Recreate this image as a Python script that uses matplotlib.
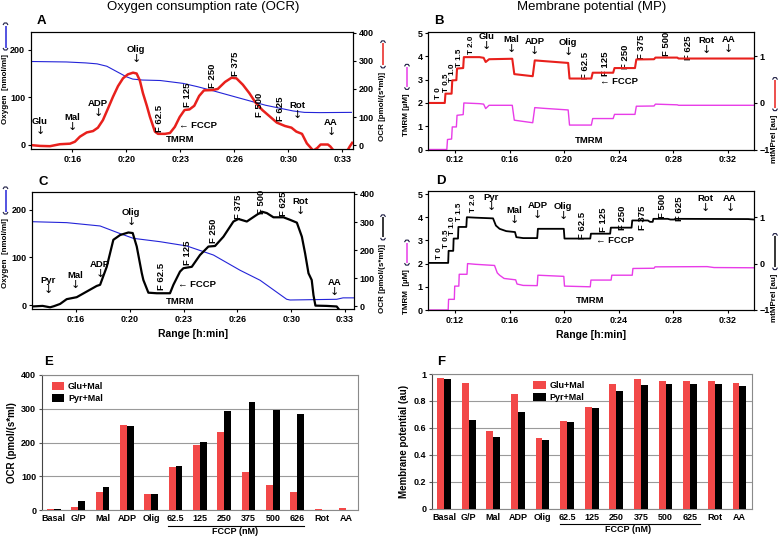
import matplotlib
matplotlib.use('Agg')
import numpy as np
import matplotlib.pyplot as plt
import matplotlib.transforms as mtrans
from matplotlib import font_manager
from matplotlib.lines import Line2D

# ---------------- data ----------------
ticks_ac = [16.667, 20.0, 23.333, 26.667, 30.0, 33.333]
labels_ac = ['0:16', '0:20', '0:23', '0:26', '0:30', '0:33']
ticks_bd = [12, 16, 20, 24, 28, 32]
labels_bd = ['0:12', '0:16', '0:20', '0:24', '0:28', '0:32']

# Panel A  (glutamate + malate)
a_o2_t = [14.1, 16.3, 17.5, 18.2, 18.8, 19.4, 20.0, 20.4, 21.0, 22.1, 23.5, 24.4, 25.3, 27.0, 28.6, 30.3, 31.0, 31.95, 33.9]
a_o2 = [175, 174, 172, 170, 165, 154, 143, 138, 136, 135, 129, 122, 114, 98, 83, 71, 68, 67.5, 68]
a_ocr_t = [14.10, 14.67, 15.29, 15.90, 16.53, 16.83, 17.14, 17.56, 17.95, 18.25, 18.56, 18.87, 19.18, 19.49, 19.80,
           20.10, 20.42, 20.64, 20.84, 21.03, 21.27, 21.46, 21.77, 21.96, 22.39, 22.70, 23.00, 23.30, 23.60, 23.90,
           24.20, 24.50, 24.80, 25.30, 25.65, 26.10, 26.50, 26.80, 27.20, 27.60, 28.00, 28.40, 28.90, 29.30, 29.80,
           30.20, 30.50, 30.85, 31.15, 31.55, 31.80, 32.00, 32.45, 32.60, 32.95, 33.20, 33.50, 33.80, 33.95]
a_ocr = [0, -3, -4, 3, 5, 12, 30, 45, 50, 62, 89, 130, 172, 210, 238,
         252, 258, 255, 230, 185, 140, 101, 48, 40, 40, 43, 65, 100, 125, 127,
         140, 175, 195, 196, 200, 225, 240, 238, 215, 185, 150, 125, 100, 80, 68,
         62, 48, 40, 6, -20, -10, 2, 2, -5, -30, -42, -35, -5, 8]

# Panel C  (pyruvate + malate)
c_o2_t = [13.94, 16.09, 18.16, 19.4, 20.22, 21.87, 23.53, 25.18, 26.83, 28.07, 29.72, 29.93, 32.82, 33.21, 33.89]
c_o2 = [175, 173, 166, 150, 140, 133, 124, 105, 73, 52, 12, 10.5, 12, 15, 15]
c_ocr_t = [13.94, 14.6, 15.06, 15.3, 15.68, 16.09, 16.71, 17.33, 17.95, 18.16, 18.57, 18.98, 19.40, 19.91, 20.18,
           20.43, 20.74, 20.84, 21.15, 21.67, 22.49, 22.70, 23.11, 23.32, 23.84, 24.35, 24.87, 25.28, 25.80, 26.42,
           26.73, 27.25, 27.87, 28.18, 28.49, 28.90, 29.52, 29.93, 30.35, 30.66, 30.86, 31.07, 31.27, 31.38, 31.50,
           32.20, 32.82, 33.13, 33.44, 33.75, 33.89]
c_ocr = [0, 2, -3, 1, 9, 26, 33, 53, 73, 77, 141, 237, 254, 263, 261,
         213, 119, 94, 49, 47, 47, 77, 124, 136, 141, 183, 213, 215, 248, 302,
         311, 302, 326, 337, 332, 317, 317, 308, 298, 248, 189, 118, 94, 40, 3,
         2, 0, -24, -42, -39, -30]

# Panel B  (TMRM / mtMPrel, Glu+Mal)
b_mp_t = [10.0, 11.25, 11.3, 11.75, 11.8, 12.1, 12.15, 12.6, 12.65, 13.8, 14.1, 14.25, 14.5, 16.2, 16.35, 17.7,
          17.85, 18.5, 20.3, 20.4, 22.0, 22.1, 23.6, 23.7, 25.2, 25.3, 26.6, 26.7, 28.3, 28.4, 33.93]
b_mp = [0.0, 0.0, 0.2, 0.2, 0.485, 0.49, 0.74, 0.75, 0.985, 0.985, 0.97, 0.88, 0.94, 0.95, 0.62, 0.575,
        0.915, 0.9, 0.86, 0.525, 0.525, 0.65, 0.65, 0.75, 0.75, 0.935, 0.94, 0.975, 0.975, 0.955, 0.955]
b_tmrm_t = [10.0, 11.4, 11.45, 11.75, 11.8, 12.1, 12.15, 12.6, 12.65, 13.8, 14.1, 14.25, 14.5, 16.2, 16.35, 17.7,
            17.85, 18.5, 20.3, 20.4, 22.0, 22.1, 23.6, 23.7, 25.2, 25.3, 26.6, 26.7, 28.3, 28.4, 33.93]
b_tmrm = [0.0, 0.0, 0.43, 0.45, 0.97, 0.97, 1.47, 1.5, 2.0, 1.97, 1.95, 1.76, 1.9, 1.9, 1.26, 1.15,
          1.8, 1.77, 1.7, 1.05, 1.05, 1.33, 1.33, 1.51, 1.51, 1.86, 1.87, 1.95, 1.92, 1.9, 1.9]

# Panel D  (TMRM / mtMPrel, Pyr+Mal)
d_mp_t = [10.0, 11.5, 11.53, 11.87, 11.9, 12.22, 12.25, 12.83, 12.87, 13.5, 14.79, 15.0, 15.27, 15.76, 16.4, 16.5,
          17.0, 18.03, 18.08, 19.98, 20.03, 21.92, 21.97, 23.38, 23.43, 24.95, 25.0, 26.15, 26.3, 26.5, 26.55,
          27.6, 27.8, 28.1, 28.15, 33.5, 33.93]
d_mp = [0.015, 0.015, 0.275, 0.275, 0.54, 0.54, 0.79, 0.79, 1.0, 0.99, 0.975, 0.82, 0.75, 0.7, 0.68, 0.57,
        0.55, 0.55, 0.75, 0.75, 0.54, 0.54, 0.645, 0.645, 0.775, 0.775, 0.93, 0.93, 0.9, 0.9, 0.965,
        0.965, 0.95, 0.95, 0.965, 0.96, 0.95]
d_tmrm_t = [10.0, 11.5, 11.53, 11.95, 11.98, 12.28, 12.31, 12.88, 12.92, 13.5, 14.9, 15.1, 15.27, 15.6, 16.45,
            16.55, 17.0, 18.03, 18.08, 19.98, 20.03, 21.92, 21.97, 23.45, 23.5, 25.0, 25.05, 26.6, 26.67, 30.5,
            31.0, 33.93]
d_tmrm = [0.0, 0.0, 0.46, 0.46, 1.03, 1.03, 1.54, 1.54, 2.0, 1.97, 1.92, 1.6, 1.5, 1.36, 1.3,
          1.12, 1.06, 1.05, 1.5, 1.45, 1.03, 1.0, 1.29, 1.29, 1.5, 1.5, 1.79, 1.8, 1.86, 1.87,
          1.83, 1.82]

# Annotations: (label, time, y)
a_arrows = [('Glu', 14.67, 60), ('Mal', 16.65, 75), ('ADP', 18.25, 125), ('Olig', 20.6, 318),
            ('Rot', 30.54, 118), ('AA', 32.64, 57)]
a_flabels = [('F 62.5', 22.08, 96), ('F 125', 23.81, 179), ('F 250', 25.35, 246), ('F 375', 26.77, 289),
             ('F 500', 28.25, 143), ('F 625', 29.55, 129)]
a_notes = [('\u2190 FCCP', 24.43, 71), ('TMRM', 23.32, 21)]

c_arrows = [('Pyr', 14.93, 69), ('Mal', 16.61, 87), ('ADP', 18.16, 126), ('Olig', 20.08, 311),
            ('Rot', 30.55, 351), ('AA', 32.66, 62)]
c_flabels = [('F 62.5', 21.94, 105), ('F 125', 23.55, 190), ('F 250', 25.16, 269), ('F 375', 26.71, 354),
             ('F 500', 28.19, 372), ('F 625', 29.5, 365)]
c_notes = [('\u2190 FCCP', 24.17, 77), ('TMRM', 23.11, 16)]

b_tlabels = [('T 0', 10.79, 2.42), ('T 0.5', 11.40, 2.85), ('T 1.0', 11.83, 3.32), ('T 1.5', 12.31, 3.92),
             ('T 2.0', 13.21, 4.48)]
b_arrows = [('Glu', 14.31, 4.56), ('Mal', 16.12, 4.43), ('ADP', 17.82, 4.35), ('Olig', 20.31, 4.3),
            ('Rot', 30.42, 4.39), ('AA', 32.07, 4.43)]
b_flabels = [('F 62.5', 21.58, 3.62), ('F 125', 23.03, 3.7), ('F 250', 24.53, 4.0), ('F 375', 25.65, 4.43),
             ('F 500', 27.51, 4.52), ('F 625', 29.09, 4.39)]
b_notes = [('\u2190 FCCP', 24.0, 2.93), ('TMRM', 21.82, 0.4)]

d_tlabels = [('T 0', 10.86, 2.45), ('T 0.5', 11.4, 3.09), ('T 1.0', 11.83, 3.65), ('T 1.5', 12.31, 4.25),
             ('T 2.0', 13.33, 4.64)]
d_arrows = [('Pyr', 14.67, 4.55), ('Mal', 16.36, 3.99), ('ADP', 18.06, 4.21), ('Olig', 19.93, 4.16),
            ('Rot', 30.35, 4.51), ('AA', 32.17, 4.51)]
d_flabels = [('F 62.5', 21.33, 3.65), ('F 125', 22.86, 3.9), ('F 250', 24.31, 3.99), ('F 375', 25.77, 3.99),
             ('F 500', 27.2, 4.51), ('F 625', 28.44, 4.38)]
d_notes = [('\u2190 FCCP', 23.76, 3.0), ('TMRM', 21.94, 0.4)]

# Panels E, F
e_cats = ['Basal', 'G/P', 'Mal', 'ADP', 'Olig', '62.5', '125', '250', '375', '500', '626', 'Rot', 'AA']
e_glu = [2, 10, 53, 252, 48, 126, 193, 232, 112, 75, 53, 2, 5]
e_pyr = [2, 27, 68, 249, 46, 129, 202, 293, 320, 297, 283, 0, 0]
f_cats = ['Basal', 'G/P', 'Mal', 'ADP', 'Olig', '62.5', '125', '250', '375', '500', '625', 'Rot', 'AA']
f_glu = [0.968, 0.935, 0.58, 0.85, 0.523, 0.651, 0.755, 0.926, 0.963, 0.95, 0.946, 0.946, 0.935]
f_pyr = [0.96, 0.66, 0.535, 0.72, 0.51, 0.641, 0.75, 0.874, 0.916, 0.928, 0.928, 0.923, 0.911]

# ---------------- style ----------------
names = {f.name for f in font_manager.fontManager.ttflist}
NARROW = 'Liberation Sans Narrow' if 'Liberation Sans Narrow' in names else 'Liberation Sans'
FAM = [NARROW, 'DejaVu Sans']
plt.rcParams['font.family'] = FAM
plt.rcParams['font.weight'] = 'bold'
plt.rcParams['axes.labelweight'] = 'bold'
plt.rcParams['axes.linewidth'] = 0.8

RED = '#e8201c'
BLUE = '#2424d8'
MAG = '#e83ce8'
BAR_RED = '#f24848'

W, H = 780, 536
fig = plt.figure(figsize=(7.8, 5.36), dpi=100)
renderer = fig.canvas.get_renderer()


def fx(x):
    return x / W


def fy(y):
    return 1 - y / H


def axes_px(l, t, r, b):
    return fig.add_axes([fx(l), fy(b), (r - l) / W, (b - t) / H])


TICK = 6.5
ANN = 6.8


def style_ts(ax):
    ax.tick_params(direction='out', length=2.5, width=0.8, labelsize=TICK, pad=1.5)


def arrow_labels(ax, items):
    for lab, t, v in items:
        ax.annotate(lab, xy=(t, v), xytext=(0, 1.5), textcoords='offset points',
                    ha='center', va='bottom', fontsize=ANN)
        ax.annotate('\u2193', xy=(t, v), xytext=(0, 1.5), textcoords='offset points',
                    ha='center', va='top', fontsize=8, fontweight='normal', family=['DejaVu Sans'])


def rot_labels(ax, items, size=ANN):
    for lab, t, v in items:
        ax.text(t, v, lab, rotation=90, ha='center', va='center', fontsize=size)


def notes(ax, items):
    for lab, t, v in items:
        ax.text(t, v, lab, ha='center', va='center', fontsize=ANN)


def pline(xs, ys, color, lw):
    fig.add_artist(Line2D([fx(v) for v in xs], [fy(v) for v in ys], color=color, lw=lw,
                          transform=fig.transFigure, solid_capstyle='butt'))


def side_label(x, y_bottom, text, br_len, color, size=5.8):
    t = fig.text(fx(x), fy(y_bottom), text, rotation=90, ha='center', va='bottom', fontsize=size)
    bb = t.get_window_extent(renderer=renderer)
    top = H - bb.y1          # image-pixel y of the text's upper end
    br_bottom = top - 4
    br_top = br_bottom - br_len
    pline([x - 2.5, x - 1.2, x + 1.2, x + 2.5], [br_bottom - 2, br_bottom, br_bottom, br_bottom - 2], '#1a1a40', 0.8)
    pline([x - 2.5, x - 1.2, x + 1.2, x + 2.5], [br_top + 2, br_top, br_top, br_top + 2], '#1a1a40', 0.8)
    pline([x, x], [br_bottom - 2.5, br_top + 2.5], color, 1.1)


# ---------------- panel A ----------------
axA = axes_px(30.7, 32, 353, 149)
axA.plot(a_o2_t, a_o2, color=BLUE, lw=0.8)
axA.set_xlim(14.1, 34.0)
axA.set_ylim(-9, 237)
axA.set_yticks([0, 100, 200])
axA.set_xticks(ticks_ac)
axA.set_xticklabels(labels_ac)
style_ts(axA)
axA2 = axA.twinx()
axA2.plot(a_ocr_t, a_ocr, color=RED, lw=1.8)
axA2.set_ylim(-14, 403)
axA2.set_yticks([0, 100, 200, 300, 400])
style_ts(axA2)
arrow_labels(axA2, a_arrows)
rot_labels(axA2, a_flabels)
notes(axA2, a_notes)

# ---------------- panel C ----------------
axC = axes_px(32, 191.7, 354, 309)
axC.plot(c_o2_t, c_o2, color=BLUE, lw=0.8)
axC.set_xlim(13.94, 33.89)
axC.set_ylim(-8.4, 238)
axC.set_yticks([0, 100, 200])
axC.set_xticks(ticks_ac)
axC.set_xticklabels(labels_ac)
style_ts(axC)
axC.set_xlabel('Range [h:min]', fontsize=7.5, labelpad=4)
axC2 = axC.twinx()
axC2.plot(c_ocr_t, c_ocr, color='black', lw=1.6)
axC2.set_ylim(-9, 408)
axC2.set_yticks([0, 100, 200, 300, 400])
style_ts(axC2)
arrow_labels(axC2, c_arrows)
rot_labels(axC2, c_flabels)
notes(axC2, c_notes)

# ---------------- panel B ----------------
axB = axes_px(428, 32, 754, 149.5)
axB.plot(b_tmrm_t, b_tmrm, color=MAG, lw=1.0)
axB.set_xlim(10.02, 33.93)
axB.set_ylim(0, 5.05)
axB.set_yticks([0, 1, 2, 3, 4, 5])
axB.set_xticks(ticks_bd)
axB.set_xticklabels(labels_bd)
style_ts(axB)
axB2 = axB.twinx()
axB2.plot(b_mp_t, b_mp, color=RED, lw=1.5)
axB2.set_ylim(-1, 1.525)
axB2.set_yticks([-1, 0, 1])
style_ts(axB2)
rot_labels(axB, b_tlabels, size=5.8)
arrow_labels(axB, b_arrows)
rot_labels(axB, b_flabels)
notes(axB, b_notes)

# ---------------- panel D ----------------
axD = axes_px(428, 191, 754, 310)
axD.plot(d_tmrm_t, d_tmrm, color=MAG, lw=1.0)
axD.set_xlim(10.02, 33.93)
axD.set_ylim(0, 5.13)
axD.set_yticks([0, 1, 2, 3, 4, 5])
axD.set_xticks(ticks_bd)
axD.set_xticklabels(labels_bd)
style_ts(axD)
axD.set_xlabel('Range [h:min]', fontsize=7.5, labelpad=4)
axD2 = axD.twinx()
axD2.plot(d_mp_t, d_mp, color='black', lw=1.3)
axD2.set_ylim(-1, 1.565)
axD2.set_yticks([-1, 0, 1])
style_ts(axD2)
rot_labels(axD, d_tlabels, size=5.8)
arrow_labels(axD, d_arrows)
rot_labels(axD, d_flabels)
notes(axD, d_notes)

# ---------------- side labels ----------------
side_label(5.5, 124, 'Oxygen  [nmol/ml]', 27, BLUE)
side_label(383, 141, 'OCR [pmol/(s*ml)]', 27, RED)
side_label(5.5, 288, 'Oxygen  [nmol/ml]', 27, BLUE)
side_label(383, 313, 'OCR [pmol/(s*ml)]', 25, 'black')
side_label(407, 136, 'TMRM [\u00b5M]', 25, MAG)
side_label(407, 314, 'TMRM  [\u00b5M]', 25, MAG)
side_label(775, 163, 'mtMPrel [au]', 33, RED)
side_label(775, 322, 'mtMPrel [au]', 36, 'black')


# ---------------- bar panels ----------------
def bar_panel(ax, cats, glu, pyr, ylim, yticks, ylabel, ul, fccp_x, ul_y, fc_y, leg_anchor):
    x = np.arange(len(cats))
    w = 0.28
    ax.bar(x - w / 2, glu, w, color=BAR_RED, label='Glu+Mal', zorder=3)
    ax.bar(x + w / 2, pyr, w, color='black', label='Pyr+Mal', zorder=3)
    ax.set_xlim(-0.5, len(cats) - 0.5)
    ax.set_ylim(*ylim)
    ax.set_yticks(yticks)
    ax.yaxis.grid(True, color='#9a9a9a', lw=0.8, zorder=0)
    ax.set_axisbelow(True)
    ax.set_xticks(x)
    ax.set_xticklabels(cats)
    ax.tick_params(axis='x', length=0, labelsize=6.5, pad=3)
    ax.tick_params(axis='y', length=2, width=0.8, labelsize=6.5, pad=2, color='#555555')
    for s in ax.spines.values():
        s.set_color('#8a8a8a')
        s.set_linewidth(0.8)
    ax.spines['left'].set_color('#444444')
    ax.set_ylabel(ylabel, fontsize=7, labelpad=3)
    tr = mtrans.blended_transform_factory(ax.transData, ax.transAxes)
    ax.plot(ul, [ul_y, ul_y], transform=tr, color='black', lw=0.8, clip_on=False)
    ax.text(fccp_x, fc_y, 'FCCP (nM)', transform=tr, ha='center', va='center', fontsize=6.5)
    ax.legend(loc='upper left', bbox_to_anchor=leg_anchor, frameon=False, fontsize=6.5,
              handlelength=1.4, handleheight=0.9, handletextpad=0.4, labelspacing=0.35, borderaxespad=0)


axE = axes_px(41.7, 375, 358, 510)
bar_panel(axE, e_cats, e_glu, e_pyr, (0, 400), [0, 100, 200, 300, 400], 'OCR (pmol/(s*ml)',
          [4.7, 10.3], 7.45, -0.116, -0.161, (0.02, 0.975))
axF = axes_px(431.7, 374, 751.7, 508.7)
bar_panel(axF, f_cats, f_glu, f_pyr, (0, 1), [0, 0.2, 0.4, 0.6, 0.8, 1], 'Membrane potential (au)',
          [4.72, 10.41], 7.48, -0.114, -0.158, (0.305, 0.975))
axF.set_yticklabels(['0', '0.2', '0.4', '0.6', '0.8', '1'])

# ---------------- titles and panel letters ----------------
fig.text(fx(203.5), fy(7), 'Oxygen consumption rate (OCR)', ha='center', va='center', fontsize=9.5,
         family=['Liberation Sans', 'DejaVu Sans'], fontweight='normal')
fig.text(fx(591.5), fy(7), 'Membrane potential (MP)', ha='center', va='center', fontsize=9.5,
         family=['Liberation Sans', 'DejaVu Sans'], fontweight='normal')
for lab, x, y in [('A', 41.5, 21.5), ('B', 439, 21.5), ('C', 43.5, 182), ('D', 441, 181),
                  ('E', 49, 362), ('F', 441, 362)]:
    fig.text(fx(x), fy(y), lab, ha='center', va='center', fontsize=9.5,
             family=['Liberation Sans', 'DejaVu Sans'])

fig.savefig('out.png', dpi=100)
